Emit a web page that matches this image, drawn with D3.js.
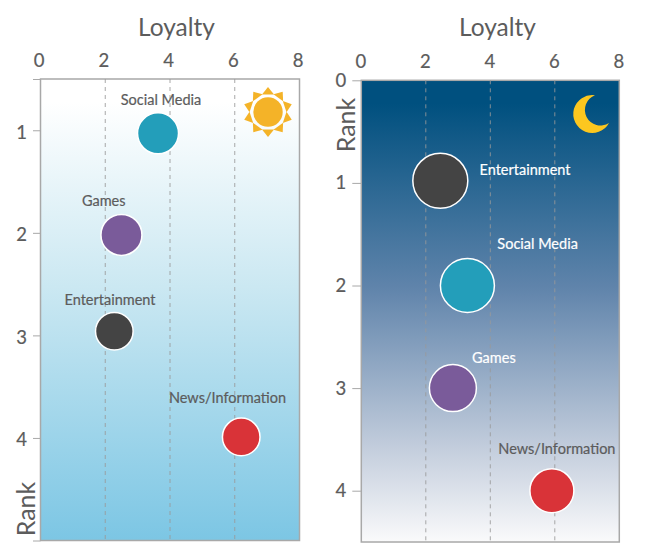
<!DOCTYPE html>
<html>
<head>
<meta charset="utf-8">
<script src="https://cdn.jsdelivr.net/npm/d3@7"></script>
<style>
  body { margin: 0; background: #fff; }
  text { font-family: Lato, sans-serif; }
</style>
</head>
<body>
<div id="chart"></div>
<script>
const categories = ['Social Media', 'Games', 'Entertainment', 'News/Information'];
const loyaltyTicks = [0, 2, 4, 6, 8];
const gridTicks = [2, 4, 6];

const dayLoyalty = [3.63, 2.5, 2.28, 6.2];
const dayRank = [1.03, 2.02, 2.96, 3.99];
const daySize = [21, 21, 19.3, 19.3];
const dayRankTicks = [0.5, 1, 2, 3, 4, 5];

const nightLoyalty = [3.29, 2.84, 2.45, 5.91];
const nightRank = [2.0, 3.0, 0.98, 4.0];
const nightSize = [27.5, 24, 28, 22.5];
const nightRankTicks = [0, 1, 2, 3, 4];

const colors = ['#239eba', '#7a5b9a', '#444444', '#d93338'];
const textColor = '#5c5c5c';

const svg = d3.select('#chart').append('svg')
  .attr('width', 645)
  .attr('height', 556)
  .style('display', 'block');

const defs = svg.append('defs');

function addGradient(id, stops) {
  const grad = defs.append('linearGradient')
    .attr('id', id)
    .attr('x1', 0).attr('y1', 0).attr('x2', 0).attr('y2', 1);
  stops.forEach(s => grad.append('stop').attr('offset', s[0]).attr('stop-color', s[1]));
}

addGradient('dayBg', [[0.05, '#ffffff'], [0.45, '#cbe8f2'], [1, '#7cc6e4']]);
addGradient('nightBg', [[0.05, '#00507f'], [0.45, '#6084ab'], [0.8, '#c4cedd'], [1, '#fafafb']]);

function drawPanel(opts) {
  const x = d3.scaleLinear().domain([0, 8]).range(opts.xRange);
  const y = d3.scaleLinear().domain(opts.rankDomain).range(opts.yRange);
  const r = d3.scaleLinear().domain([0, 30]).range([0, 30]);
  const g = svg.append('g');

  g.append('rect')
    .attr('x', x(0))
    .attr('y', y.range()[0])
    .attr('width', x(8) - x(0))
    .attr('height', y.range()[1] - y.range()[0])
    .attr('fill', `url(#${opts.gradient})`)
    .attr('stroke', '#a8a8a8')
    .attr('stroke-width', 1.5);

  // Dashed grid
  g.selectAll('.grid').data(gridTicks).enter().append('line')
    .attr('x1', d => x(d)).attr('x2', d => x(d))
    .attr('y1', y.range()[0]).attr('y2', y.range()[1])
    .attr('stroke', '#999')
    .attr('stroke-opacity', 0.85)
    .attr('stroke-width', 1)
    .attr('stroke-dasharray', '4 4');

  // Axes
  const top = g.append('g')
    .attr('transform', `translate(0,${y.range()[0]})`)
    .call(d3.axisTop(x).tickValues(loyaltyTicks).tickSize(0).tickPadding(12));
  const left = g.append('g')
    .attr('transform', `translate(${x(0)},0)`)
    .call(d3.axisLeft(y).tickValues(opts.rankTicks).tickSize(opts.tickLen).tickPadding(6)
      .tickFormat(d => Number.isInteger(d) && d < 5 ? d : ''));
  [top, left].forEach(a => {
    a.select('.domain').remove();
    a.selectAll('line').attr('stroke', '#a8a8a8');
    a.selectAll('text')
      .attr('fill', textColor)
      .attr('stroke', textColor)
      .attr('stroke-width', 0.2)
      .style('font-size', '18.5px')
      .style('font-family', 'Lato, sans-serif');
  });
  top.selectAll('text').attr('dx', opts.topDx);
  left.selectAll('text').attr('dy', opts.leftDy);

  g.append('text')
    .attr('x', opts.titleX).attr('y', 36)
    .attr('text-anchor', 'middle')
    .attr('fill', textColor)
    .style('font-size', '24.5px')
    .text('Loyalty');

  g.append('text')
    .attr('transform', `translate(${opts.rankLabel[0]},${opts.rankLabel[1]}) rotate(-90)`)
    .attr('text-anchor', 'middle')
    .attr('fill', textColor)
    .style('font-size', '25px')
    .text('Rank');

  // Bubbles
  const rows = categories.map((c, i) => ({
    name: c, loyalty: opts.loyalty[i], rank: opts.rank[i], size: opts.size[i], color: colors[i],
    off: opts.labelOffset[i], labelColor: opts.labelColor[i]
  }));

  g.selectAll('circle').data(rows).enter().append('circle')
    .attr('cx', d => x(d.loyalty))
    .attr('cy', d => y(d.rank))
    .attr('r', d => r(d.size) - 0.5)
    .attr('fill', d => d.color)
    .attr('stroke', '#fff')
    .attr('stroke-width', 1.5);

  g.selectAll('.label').data(rows).enter().append('text')
    .attr('class', 'label')
    .attr('x', d => x(d.loyalty) + d.off[0])
    .attr('y', d => y(d.rank) + d.off[1])
    .attr('text-anchor', 'middle')
    .attr('fill', d => d.labelColor)
    .attr('stroke', d => d.labelColor)
    .attr('stroke-width', 0.2)
    .style('font-size', '14.5px')
    .text(d => d.name);
}

drawPanel({
  xRange: [40.5, 299.5],
  yRange: [79, 540.5],
  rankDomain: [0.5, 5],
  rankTicks: dayRankTicks,
  tickLen: 7.5,
  topDx: -2,
  leftDy: '0.42em',
  gradient: 'dayBg',
  titleX: 176.5,
  rankLabel: [35, 509],
  loyalty: dayLoyalty,
  rank: dayRank,
  size: daySize,
  labelOffset: [[3, -28.7], [-17.7, -29.3], [-4.3, -26.3], [-13.7, -33.7]],
  labelColor: [textColor, textColor, textColor, textColor]
});

drawPanel({
  xRange: [361.3, 619.3],
  yRange: [80.3, 542],
  rankDomain: [0, 4.5],
  rankTicks: nightRankTicks,
  tickLen: 9,
  topDx: -1,
  leftDy: '0.32em',
  gradient: 'nightBg',
  titleX: 497.5,
  rankLabel: [355, 125],
  loyalty: nightLoyalty,
  rank: nightRank,
  size: nightSize,
  labelOffset: [[70.2, -36.7], [41, -25], [84.7, -6.3], [5, -36.3]],
  labelColor: ['#ffffff', '#ffffff', '#ffffff', textColor]
});

// Sun
const sun = svg.append('g').attr('transform', 'translate(268,112)').attr('fill', '#f4b328');
sun.append('circle').attr('r', 14.7);
sun.selectAll('path').data(d3.range(10)).enter().append('path')
  .attr('d', 'M-6,-17.5L0,-25L6,-17.5Z')
  .attr('transform', d => `rotate(${d * 36})`);

// Moon
svg.append('path')
  .attr('fill', '#fcc71f')
  .attr('d', 'M595,95.2 A19,19 0 1 0 609,123 A15.65,15.65 0 1 1 595,95.2Z');
</script>
</body>
</html>
